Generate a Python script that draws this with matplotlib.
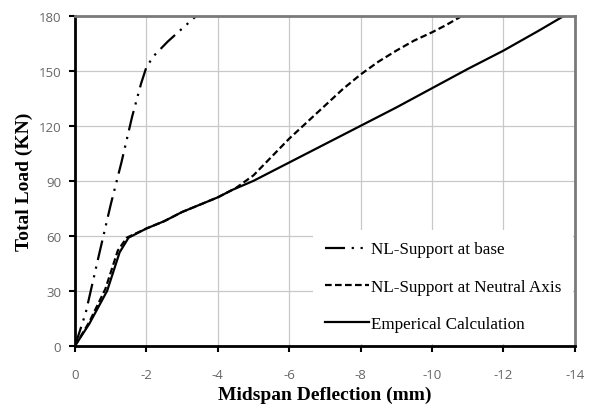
import matplotlib
matplotlib.use("Agg")
import matplotlib.pyplot as plt

plt.rcParams['axes.unicode_minus'] = False

# deflection (mm) / total load (kN)
base_x = [0, -0.15, -0.3, -0.5, -0.7, -1.0, -1.3, -1.6, -1.85, -2.0, -2.2, -2.6, -3.0, -3.4]
base_y = [0, 9, 18, 35, 52, 77, 100, 125, 143, 152, 158, 166, 173, 180]

neutral_x = [0, -0.4, -0.85, -1.05, -1.2, -1.45, -2, -2.5, -3, -3.5, -4, -4.5, -5,
             -5.5, -6, -6.5, -7, -7.5, -8, -8.5, -9, -9.5, -10, -10.4, -10.8]
neutral_y = [0, 13, 31, 43, 52, 59, 64, 68, 73, 77, 81, 86, 93,
             103, 113, 122, 131, 140, 148, 155, 161, 166.5, 171, 175, 179.5]

emp_x = [0, -0.4, -0.9, -1.1, -1.25, -1.5, -2.0, -2.5, -3.0, -3.5, -4.0, -4.4, -5,
         -6, -7, -8, -9, -10, -11, -12, -13, -13.7]
emp_y = [0, 12, 30, 42, 51, 59, 64, 68, 73, 77, 81, 85, 90,
         100, 110, 120, 130, 140.5, 151, 161, 172, 180]

labels = ['NL-Support at base', 'NL-Support at Neutral Axis', 'Emperical Calculation']
xticks = [0, -2, -4, -6, -8, -10, -12, -14]
yticks = [0, 30, 60, 90, 120, 150, 180]

fig = plt.figure(figsize=(6, 4.1), dpi=100)
ax = fig.add_axes([0.125, 0.154, 0.833, 0.805])

ax.plot(base_x, base_y, color='black', lw=1.6, dashes=(9, 3, 1, 3, 1, 3), label=labels[0])
ax.plot(neutral_x, neutral_y, color='black', lw=1.6, dashes=(3, 1.5), label=labels[1])
ax.plot(emp_x, emp_y, color='black', lw=1.6, label=labels[2])

ax.set_xlim(0, -14)
ax.set_ylim(0, 180)
ax.set_xticks(xticks)
ax.set_yticks(yticks)
ax.grid(True, color='#c8c8c8', lw=0.9)
ax.set_axisbelow(True)

for s in ['left', 'bottom']:
    ax.spines[s].set_linewidth(2)
    ax.spines[s].set_color('black')
for s in ['top', 'right']:
    ax.spines[s].set_linewidth(2)
    ax.spines[s].set_color('#7a7a7a')

ax.tick_params(direction='out', length=4, width=1.5, color='black',
               labelcolor='#666666', labelsize=9.5)
ax.tick_params(axis='x', pad=12)
ax.tick_params(axis='y', pad=6)
for t in ax.get_xticklabels() + ax.get_yticklabels():
    t.set_family('Open Sans')

ax.set_xlabel('Midspan Deflection (mm)', family='Liberation Serif', fontweight='bold',
              fontsize=14, labelpad=3)
ax.set_ylabel('Total Load (KN)', family='Liberation Serif', fontweight='bold',
              fontsize=14, labelpad=4)

leg = ax.legend(loc='lower right', bbox_to_anchor=(1.0, 0.0), frameon=True,
                fancybox=False, edgecolor='white', framealpha=1,
                prop={'family': 'Liberation Serif', 'size': 12.3},
                handlelength=2.6, handletextpad=0.1, labelspacing=1.25,
                borderpad=0.7, borderaxespad=0.1)
leg.get_frame().set_linewidth(0)

fig.savefig('out.png', dpi=100)
